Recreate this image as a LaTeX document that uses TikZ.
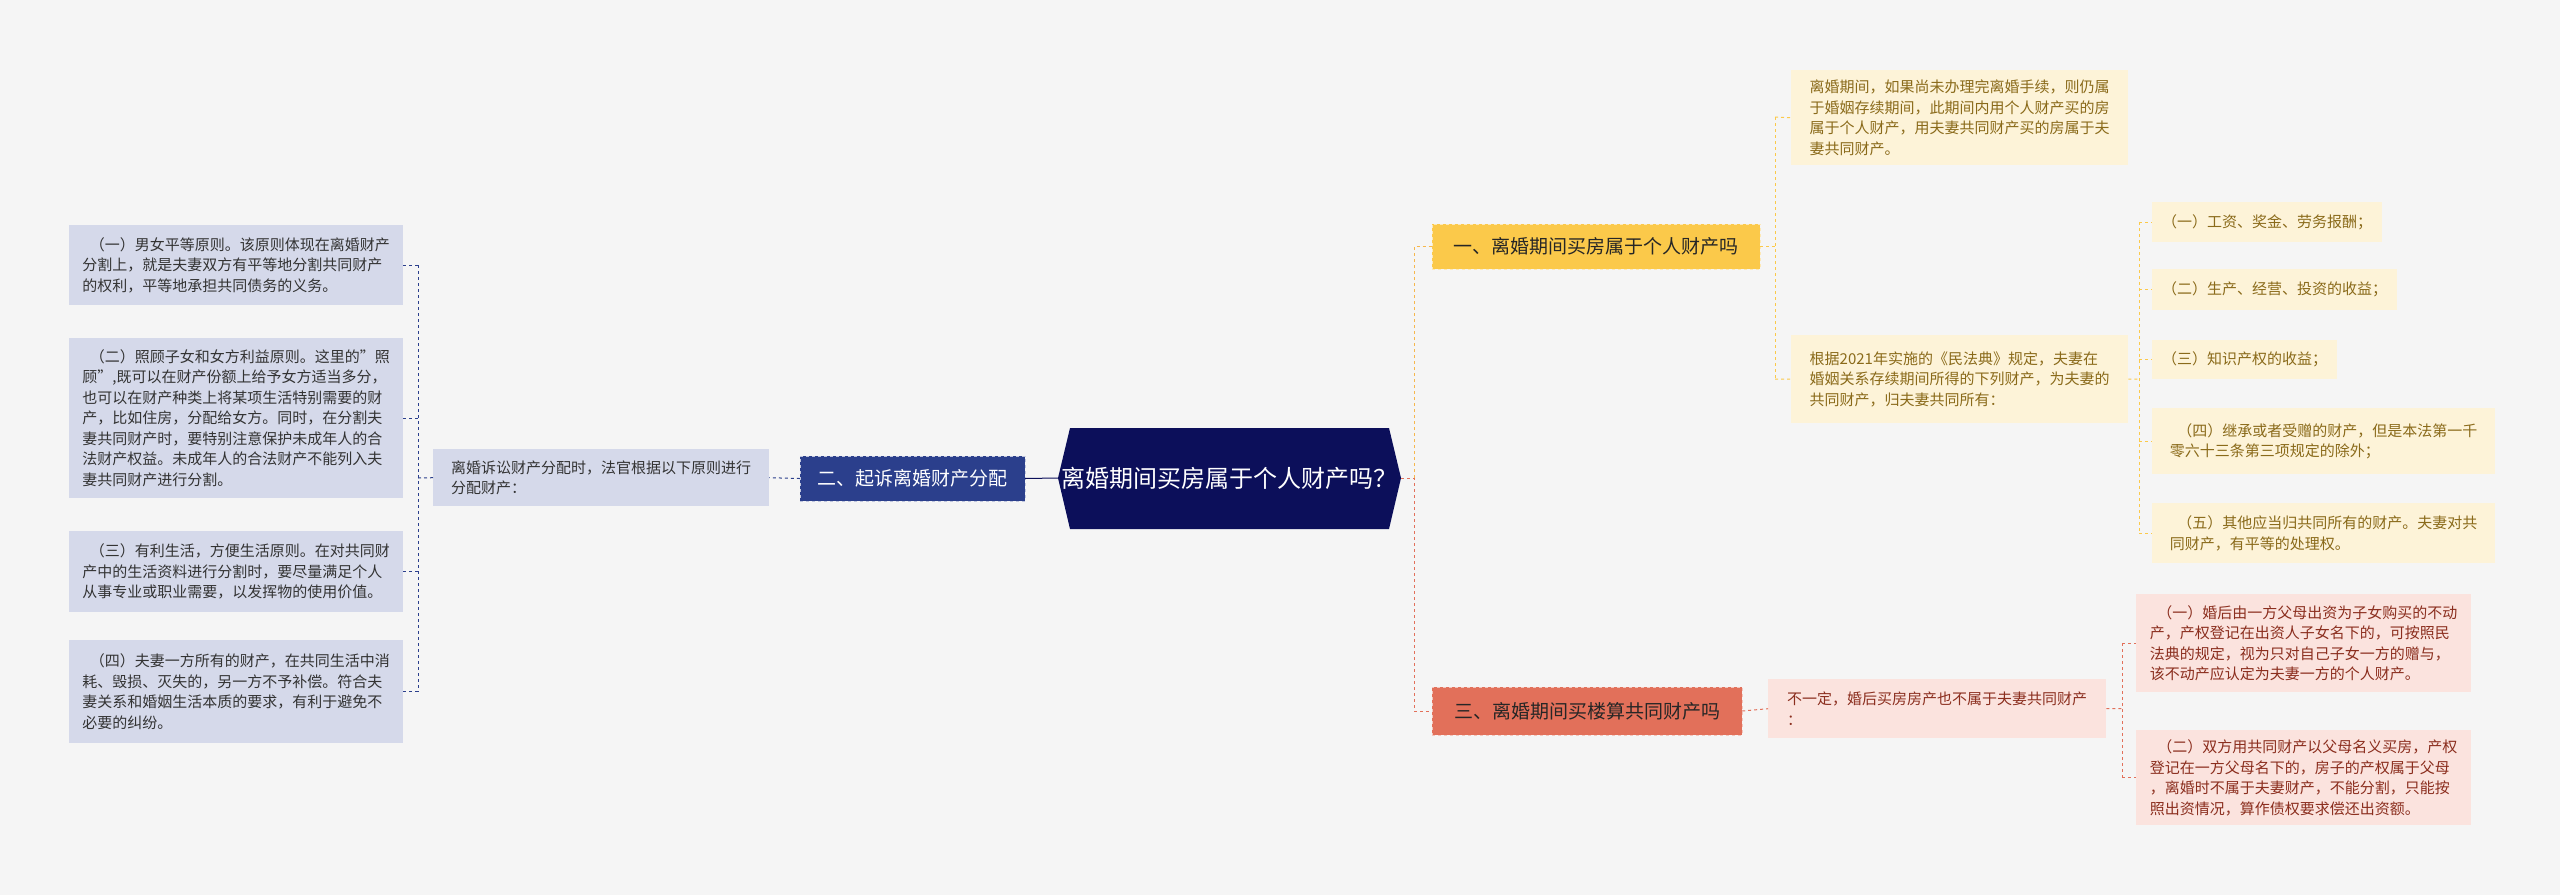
\documentclass[tikz,border=0pt]{standalone}
\usepackage{fontspec}
\setmainfont{Noto Sans CJK SC}
\begin{document}
\begin{tikzpicture}[x=1pt,y=-1pt,
 leaf/.style={anchor=north west,inner sep=0pt,align=left,font=\fontsize{15}{20.5}\selectfont},
 bl/.style={leaf,fill=blueleaf,text=black!80},
 yl/.style={leaf,fill=yelleaf,text=yeltext},
 rl/.style={leaf,fill=redleaf,text=redtext},
 dl/.style={dashed,line width=1pt}]
\definecolor{bg}{HTML}{F5F5F5}
\definecolor{navy}{HTML}{0C0F5A}
\definecolor{blue2}{HTML}{2B3F8C}
\definecolor{blueleaf}{HTML}{D5D9EA}
\definecolor{yelleaf}{HTML}{FDF3D8}
\definecolor{yeltext}{HTML}{8A6A1A}
\definecolor{redleaf}{HTML}{FBE3DE}
\definecolor{redtext}{HTML}{8B2E1E}
\definecolor{yel}{HTML}{FBC94A}
\definecolor{red}{HTML}{E2705A}
\fill[bg] (0,0) rectangle (2560,895);
\useasboundingbox (0,0) rectangle (2560,895);
% center
\fill[navy] (1070,428) -- (1389,428) -- (1401,478) -- (1389,529) -- (1070,529) -- (1058,478) -- cycle;
\node[text=white,align=center,font=\fontsize{24}{31}\selectfont] (c) at (1229.5,478) {离婚期间买房属于个人财产吗？};
\coordinate (cl) at (1058,478); \coordinate (cr) at (1401,478);
% left branch
\node[fill=blue2,text=white,minimum width=225,minimum height=45,inner sep=0pt,font=\fontsize{19}{24}\selectfont,draw=white!70!blue2,dashed] (b2) at (912.5,478.5) {二、起诉离婚财产分配};
\node[bl,minimum width=336,minimum height=57,inner xsep=8pt,inner ysep=7pt] (m2) at (433,449) {离婚诉讼财产分配时，法官根据以下原则进行\\分配财产：};
\node[bl,minimum width=334,minimum height=80,inner xsep=8pt,inner ysep=9pt] (l1) at (69,225) {\hspace{0.5em}（一）男女平等原则。该原则体现在离婚财产\\分割上，就是夫妻双方有平等地分割共同财产\\的权利，平等地承担共同债务的义务。};
\node[bl,minimum width=334,minimum height=160,inner xsep=8pt,inner ysep=9pt] (l2) at (69,338) {\hspace{0.5em}（二）照顾子女和女方利益原则。这里的"照\\顾",既可以在财产份额上给予女方适当多分，\\也可以在财产种类上将某项生活特别需要的财\\产，比如住房，分配给女方。同时，在分割夫\\妻共同财产时，要特别注意保护未成年人的合\\法财产权益。未成年人的合法财产不能列入夫\\妻共同财产进行分割。};
\node[bl,minimum width=334,minimum height=81,inner xsep=8pt,inner ysep=9pt] (l3) at (69,531) {\hspace{0.5em}（三）有利生活，方便生活原则。在对共同财\\产中的生活资料进行分割时，要尽量满足个人\\从事专业或职业需要，以发挥物的使用价值。};
\node[bl,minimum width=334,minimum height=103,inner xsep=8pt,inner ysep=9pt] (l4) at (69,640) {\hspace{0.5em}（四）夫妻一方所有的财产，在共同生活中消\\耗、毁损、灭失的，另一方不予补偿。符合夫\\妻关系和婚姻生活本质的要求，有利于避免不\\必要的纠纷。};
\draw[navy,line width=1pt] (cl) -- (b2.east);
\draw[blue2,dl] (b2.west) -- (m2.east);
\draw[blue2,dl] (m2.west) -- (418,478);
\draw[blue2,dl] (418,265) -- (418,692);
\foreach \n in {l1,l2,l3,l4} \draw[blue2,dl] (\n.east) -- (418,0|-\n.east);
% right branch 1
\node[fill=yel,text=black!85,minimum width=328,minimum height=45,inner sep=0pt,font=\fontsize{19}{24}\selectfont,draw=white!60!yel,dashed] (b1) at (1596,246.5) {一、离婚期间买房属于个人财产吗};
\node[yl,minimum width=337,minimum height=95,inner xsep=8pt,inner ysep=7pt] (y1) at (1791,70) {离婚期间，如果尚未办理完离婚手续，则仍属\\于婚姻存续期间，此期间内用个人财产买的房\\属于个人财产，用夫妻共同财产买的房属于夫\\妻共同财产。};
\node[yl,minimum width=337,minimum height=88,inner xsep=8pt,inner ysep=7pt] (y2) at (1791,335) {根据2021年实施的《民法典》规定，夫妻在\\婚姻关系存续期间所得的下列财产，为夫妻的\\共同财产，归夫妻共同所有：};
\node[yl,minimum width=229,minimum height=40,inner xsep=10pt,inner ysep=10pt] (s1) at (2152,202) {（一）工资、奖金、劳务报酬；};
\node[yl,minimum width=245,minimum height=41,inner xsep=10pt,inner ysep=10pt] (s2) at (2152,269) {（二）生产、经营、投资的收益；};
\node[yl,minimum width=183,minimum height=39,inner xsep=10pt,inner ysep=10pt] (s3) at (2152,340) {（三）知识产权的收益；};
\node[yl,minimum width=343,minimum height=66,inner xsep=8pt,inner ysep=10pt] (s4) at (2152,408) {\hspace{0.5em}（四）继承或者受赠的财产，但是本法第一千\\零六十三条第三项规定的除外；};
\node[yl,minimum width=343,minimum height=60,inner xsep=8pt,inner ysep=8pt] (s5) at (2152,503) {\hspace{0.5em}（五）其他应当归共同所有的财产。夫妻对共\\同财产，有平等的处理权。};
% right branch 3
\node[fill=red,text=black!85,minimum width=310,minimum height=48,inner sep=0pt,font=\fontsize{19}{24}\selectfont,draw=white!60!red,dashed] (b3) at (1587,711) {三、离婚期间买楼算共同财产吗};
\node[rl,minimum width=338,minimum height=59,inner xsep=8pt,inner ysep=9pt] (r0) at (1768,679) {不一定，婚后买房房产也不属于夫妻共同财产\\：};
\node[rl,minimum width=335,minimum height=98,inner xsep=8pt,inner ysep=8pt] (r1) at (2136,594) {\hspace{0.5em}（一）婚后由一方父母出资为子女购买的不动\\产，产权登记在出资人子女名下的，可按照民\\法典的规定，视为只对自己子女一方的赠与，\\该不动产应认定为夫妻一方的个人财产。};
\node[rl,minimum width=335,minimum height=95,inner xsep=8pt,inner ysep=8pt] (r2) at (2136,730) {\hspace{0.5em}（二）双方用共同财产以父母名义买房，产权\\登记在一方父母名下的，房子的产权属于父母\\，离婚时不属于夫妻财产，不能分割，只能按\\照出资情况，算作债权要求偿还出资额。};
% right connectors
\draw[red,dl] (cr) -- (1414,478) -- (1414,711) -- (b3.west);
\draw[yel!80!red,dl] (1414,478) -- (1414,246.5) -- (b1.west);
\draw[yel,dl] (b1.east) -- (1775,246.5);
\draw[yel,dl] (1775,117) -- (1775,379);
\draw[yel,dl] (1775,117) -- (y1.west);
\draw[yel,dl] (1775,379) -- (y2.west);
\draw[yel,dl] (y2.east) -- (2139,379);
\draw[yel,dl] (2139,222) -- (2139,533);
\foreach \n in {s1,s2,s3,s4,s5} \draw[yel,dl] (2139,0|-\n.west) -- (\n.west);
\draw[red,dl] (b3.east) -- (r0.west);
\draw[red,dl] (r0.east) -- (2122,708.5);
\draw[red,dl] (2122,643) -- (2122,777.5);
\foreach \n in {r1,r2} \draw[red,dl] (2122,0|-\n.west) -- (\n.west);
\end{tikzpicture}
\end{document}
